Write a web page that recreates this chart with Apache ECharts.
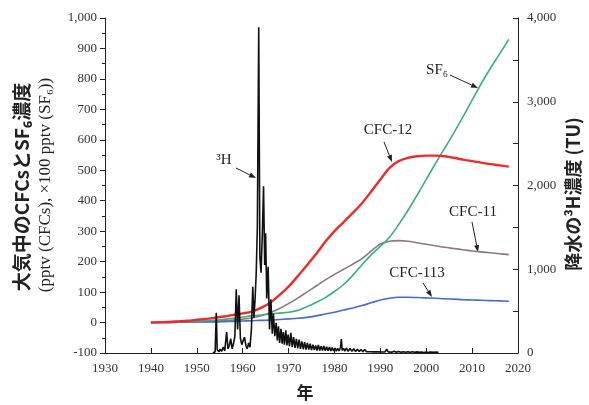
<!DOCTYPE html>
<html>
<head>
<meta charset="utf-8">
<script src="https://cdn.jsdelivr.net/npm/echarts@6/dist/echarts.min.js"></script>
<style>
  html, body { margin: 0; padding: 0; background: #fff; }
  #chart { width: 589px; height: 405px; }
</style>
</head>
<body>
<div id="chart"></div>
<script>
// years for the atmospheric curves
const cfcYears = [1940, 1942, 1944, 1946, 1948, 1950, 1952, 1954, 1956, 1958,
  1960, 1962, 1964, 1966, 1968, 1970, 1972, 1974, 1976, 1978,
  1980, 1982, 1984, 1986, 1988, 1990, 1992, 1994, 1996, 1998,
  2000, 2002, 2004, 2006, 2008, 2010, 2012, 2014, 2016, 2018];

// pptv
const cfc12 = [0, 1, 2, 4, 6, 9, 12, 16, 20, 25,
  30, 36, 48, 65, 90, 118, 152, 188, 225, 265,
  300, 330, 360, 392, 430, 470, 508, 530, 541, 546,
  548, 548, 546, 541, 535, 530, 525, 520, 516, 512];
const cfc11 = [0, 0, 0, 1, 1, 2, 3, 4, 6, 8,
  11, 15, 22, 32, 46, 62, 80, 100, 120, 140,
  158, 175, 192, 210, 235, 258, 267, 269, 267, 262,
  257, 252, 247, 243, 239, 235, 232, 229, 226, 223];
const cfc113 = [0, 0, 0.5, 1, 1, 1.5, 2, 2, 3, 4,
  5, 6, 7, 8, 10, 12, 14, 17, 22, 28,
  34, 41, 48, 56, 65, 74, 80, 83, 83, 82,
  81, 80, 78, 77, 75, 74, 73, 72, 71, 70];
// x100 pptv
const sf6 = [0, 1, 2, 3, 3, 4, 6, 8, 11, 14,
  18, 22, 25, 28, 31, 34, 40, 52, 66, 82,
  102, 125, 155, 190, 222, 250, 280, 322, 368, 418,
  470, 522, 572, 622, 675, 730, 785, 835, 882, 930];

// tritium in precipitation [year, TU]
const tritium = [
  [1953.5, 0], [1954.0, 15], [1954.25, 480], [1954.45, 40], [1954.8, 15], [1955.1, 45], [1955.4, 20], [1955.8, 70],
  [1956.1, 25], [1956.5, 250], [1956.8, 50], [1957.1, 90], [1957.4, 170], [1957.7, 50], [1958.0, 110], [1958.3, 200],
  [1958.6, 760], [1958.9, 280], [1959.2, 690], [1959.5, 180], [1959.8, 100], [1960.1, 80], [1960.4, 190], [1960.7, 90],
  [1961.0, 50], [1961.3, 120], [1961.6, 70], [1961.9, 280], [1962.2, 790], [1962.45, 420], [1962.7, 640], [1962.95, 950],
  [1963.2, 1500], [1963.5, 3890], [1963.75, 1150], [1964.0, 960], [1964.3, 1450], [1964.55, 1990], [1964.8, 1050], [1965.0, 1430],
  [1965.25, 650], [1965.55, 1030], [1965.85, 280], [1966.15, 640], [1966.45, 230], [1966.7, 470], [1967.0, 200], [1967.3, 360],
  [1967.55, 150], [1967.8, 320], [1968.05, 120], [1968.35, 290], [1968.6, 110], [1968.85, 250], [1969.1, 100], [1969.4, 270],
  [1969.65, 90], [1969.9, 220], [1970.2, 80], [1970.5, 240], [1970.8, 70], [1971.1, 190], [1971.4, 60], [1971.7, 170],
  [1972.0, 55], [1972.3, 160], [1972.6, 50], [1972.9, 140], [1973.2, 45], [1973.5, 130], [1973.8, 40], [1974.1, 120],
  [1974.4, 40], [1974.7, 110], [1975.0, 35], [1975.3, 100], [1975.6, 35], [1975.9, 90], [1976.2, 30], [1976.5, 95],
  [1976.8, 30], [1977.1, 80], [1977.4, 30], [1977.7, 85], [1978.0, 28], [1978.3, 75], [1978.6, 28], [1978.9, 70],
  [1979.2, 25], [1979.5, 65], [1979.8, 25], [1980.1, 60], [1980.4, 22], [1980.7, 55], [1981.0, 25], [1981.3, 60],
  [1981.5, 165], [1981.7, 30], [1982.0, 55], [1982.3, 22], [1982.6, 60], [1983.0, 20], [1983.4, 55], [1983.8, 20],
  [1984.2, 50], [1984.6, 18], [1985.0, 45], [1985.4, 18], [1985.8, 42], [1986.2, 16], [1986.6, 40], [1987.0, 15],
  [1987.4, 38], [1987.8, 15], [1988.2, 35], [1988.6, 14], [1989.0, 32], [1989.4, 13], [1989.8, 30], [1990.2, 12],
  [1990.6, 28], [1991.0, 12], [1991.4, 45], [1991.7, 12], [1992.1, 22], [1992.5, 10], [1993.0, 20], [1993.5, 10],
  [1994.0, 18], [1994.5, 9], [1995.0, 16], [1995.5, 9], [1996.0, 15], [1996.5, 8], [1997.0, 14], [1997.5, 8],
  [1998.0, 13], [1998.5, 8], [1999.0, 12], [1999.5, 7], [2000.0, 12], [2000.5, 7], [2001.0, 11], [2001.5, 7],
  [2002.0, 10], [2002.7, 7]
];

const serif = '"Liberation Serif", "DejaVu Serif", serif';
const jp = '"Noto Sans CJK JP", "Noto Sans", sans-serif';

const pairs = (vals) => cfcYears.map((y, i) => [y, vals[i]]);
const comma = (v) => String(v).replace(/\B(?=(\d{3})+(?!\d))/g, ',');

// little arrow for the labels
function arrow(x1, y1, x2, y2) {
  const a = Math.atan2(y2 - y1, x2 - x1);
  const L = 7, W = 2.6;
  const bx = x2 - L * Math.cos(a), by = y2 - L * Math.sin(a);
  return {
    type: 'group',
    children: [
      { type: 'line', shape: { x1: x1, y1: y1, x2: bx, y2: by }, style: { stroke: '#222', lineWidth: 1 } },
      { type: 'polygon', shape: { points: [[x2, y2], [bx - W * Math.sin(a), by + W * Math.cos(a)], [bx + W * Math.sin(a), by - W * Math.cos(a)]] }, style: { fill: '#222' } }
    ]
  };
}

function label(text, x, y) {
  return { type: 'text', x: x, y: y, style: { text: text, font: '15px ' + serif, fill: '#222', textAlign: 'center', textVerticalAlign: 'middle' } };
}

const chart = echarts.init(document.getElementById('chart'));

const option = {
  animation: false,
  grid: { left: 105, right: 71, top: 18, bottom: 52 },
  xAxis: {
    type: 'value',
    min: 1930, max: 2020, interval: 10,
    axisLine: { onZero: false, lineStyle: { color: '#222', width: 1 } },
    axisTick: { inside: true, length: 5, lineStyle: { color: '#222' } },
    axisLabel: { color: '#333', fontFamily: serif, fontSize: 13, margin: 9, formatter: (v) => String(v) },
    splitLine: { show: false }
  },
  yAxis: [
    {
      type: 'value',
      min: -100, max: 1000, interval: 100,
      axisLine: { show: true, lineStyle: { color: '#222', width: 1 } },
      axisTick: { show: true, length: 5, lineStyle: { color: '#222' } },
      minorTick: { show: true, splitNumber: 2, length: 3, lineStyle: { color: '#222' } },
      axisLabel: { color: '#333', fontFamily: serif, fontSize: 13, margin: 8, formatter: comma },
      splitLine: { show: false }
    },
    {
      type: 'value',
      min: 0, max: 4000, interval: 500,
      position: 'right',
      axisLine: { show: true, lineStyle: { color: '#222', width: 1 } },
      axisTick: { show: true, inside: true, length: 5, lineStyle: { color: '#222' } },
      axisLabel: {
        color: '#333', fontFamily: serif, fontSize: 13, margin: 9,
        formatter: (v) => (v % 1000 === 0 ? comma(v) : '')
      },
      splitLine: { show: false }
    }
  ],
  series: [
    {
      name: 'CFC-11', type: 'line', data: pairs(cfc11), smooth: 0.3, symbol: 'none',
      lineStyle: { color: '#8b7b78', width: 1.6 }
    },
    {
      name: 'CFC-113', type: 'line', data: pairs(cfc113), smooth: 0.3, symbol: 'none',
      lineStyle: { color: '#4a68d0', width: 1.6 }
    },
    {
      name: 'SF6', type: 'line', data: pairs(sf6), smooth: 0.3, symbol: 'none',
      lineStyle: { color: '#3cae7e', width: 1.6 }
    },
    {
      name: 'CFC-12', type: 'line', data: pairs(cfc12), smooth: 0.3, symbol: 'none',
      lineStyle: { color: '#ee2a2a', width: 2.4 }
    },
    {
      name: '3H', type: 'line', yAxisIndex: 1, data: tritium, symbol: 'none',
      lineStyle: { color: '#111', width: 1.6 }
    }
  ],
  graphic: [
    {
      type: 'text', x: 22, y: 187, rotation: Math.PI / 2,
      style: { text: '大気中のCFCsとSF₆濃度', font: 'bold 19px ' + jp, fill: '#222', textAlign: 'center', textVerticalAlign: 'middle' }
    },
    {
      type: 'text', x: 46, y: 185, rotation: Math.PI / 2,
      style: { text: '(pptv (CFCs), ×100 pptv (SF₆))', font: '17px ' + serif, fill: '#222', textAlign: 'center', textVerticalAlign: 'middle' }
    },
    {
      type: 'text', x: 573, y: 194, rotation: Math.PI / 2,
      style: { text: '降水の³H濃度 (TU)', font: 'bold 18px ' + jp, fill: '#222', textAlign: 'center', textVerticalAlign: 'middle' }
    },
    {
      type: 'text', x: 305, y: 393,
      style: { text: '年', font: 'bold 17px ' + jp, fill: '#222', textAlign: 'center', textVerticalAlign: 'middle' }
    },
    label('³H', 224, 160),
    arrow(236, 168, 256, 178),
    label('CFC-12', 388, 130),
    arrow(384, 142, 392, 162),
    label('CFC-11', 473, 212),
    arrow(472, 222, 478, 252),
    label('CFC-113', 417, 273),
    arrow(423, 283, 432, 297),
    label('SF₆', 437, 70),
    arrow(450, 75, 478, 88)
  ]
};

chart.setOption(option);
</script>
</body>
</html>
